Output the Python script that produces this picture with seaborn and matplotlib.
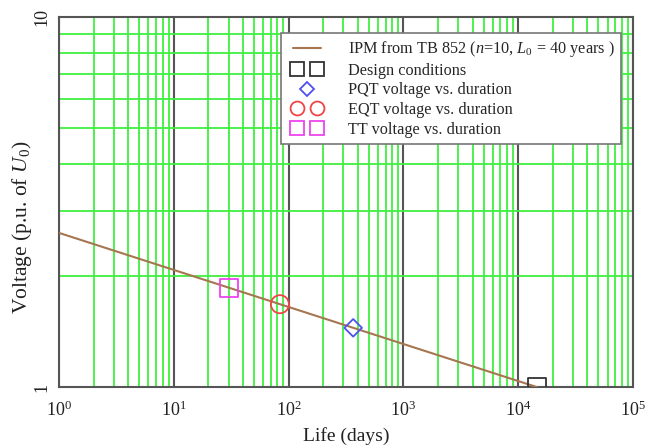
import matplotlib
matplotlib.use("Agg")
import matplotlib.pyplot as plt
import seaborn as sns
import pandas as pd
from matplotlib.lines import Line2D
from matplotlib.legend_handler import HandlerLine2D
from matplotlib.ticker import LogLocator, LogFormatterMathtext, NullFormatter

# Data
ipm_life = [1, 14610]          # days
ipm_voltage = [2.61, 1.0]      # p.u. of U0
design_life = [14610]
design_voltage = [1.0]
pqt_life = [365]
pqt_voltage = [1.446]
eqt_life = [84]
eqt_voltage = [1.675]
tt_life = [30]
tt_voltage = [1.855]

sns.set_theme(style="white")
plt.rcParams["font.family"] = ["Liberation Serif", "DejaVu Serif"]
plt.rcParams["mathtext.fontset"] = "custom"
plt.rcParams["mathtext.rm"] = "Liberation Serif"
plt.rcParams["mathtext.it"] = "Liberation Serif:italic"

green = "#3ff03f"
brown = "#a5764f"
edge = "#555555"

fig = plt.figure(figsize=(6.47, 4.45), dpi=100)
ax = fig.add_axes([0.0912, 0.130, 0.8872, 0.832])

ipm = pd.DataFrame({"life": ipm_life, "voltage": ipm_voltage})
sns.lineplot(data=ipm, x="life", y="voltage", ax=ax, color=brown, linewidth=1.5, zorder=3)

def points(life, volt, marker, color, size):
    d = pd.DataFrame({"life": life, "voltage": volt})
    sns.scatterplot(data=d, x="life", y="voltage", ax=ax, marker=marker, s=size,
                    facecolor="none", edgecolor=color, linewidth=1.3, zorder=4)

points(design_life, design_voltage, "s", "#333333", 170)
points(pqt_life, pqt_voltage, "D", "#5050f0", 80)
points(eqt_life, eqt_voltage, "o", "#f04545", 170)
points(tt_life, tt_voltage, "s", "#ee44ee", 170)

ax.set_xscale("log")
ax.set_yscale("log")
ax.set_xlim(1, 1e5)
ax.set_ylim(1, 10)

ax.xaxis.set_major_locator(LogLocator(base=10, numticks=10))
ax.xaxis.set_major_formatter(LogFormatterMathtext())
ax.xaxis.set_minor_locator(LogLocator(base=10, subs=range(2, 10), numticks=10))
ax.xaxis.set_minor_formatter(NullFormatter())
ax.set_yticks([1, 10], ["1", "10"])
ax.yaxis.set_minor_locator(LogLocator(base=10, subs=range(2, 10), numticks=10))
ax.yaxis.set_minor_formatter(NullFormatter())

ax.grid(which="minor", axis="both", color=green, linewidth=1.3)
ax.grid(which="major", axis="x", color=edge, linewidth=1.5)
ax.grid(which="major", axis="y", color=green, linewidth=1.3)
ax.set_axisbelow(True)

ax.tick_params(which="both", length=0, labelsize=13, colors="#222222")
ax.tick_params(axis="x", pad=10)
ax.tick_params(axis="y", pad=6)
for lab in ax.get_yticklabels():
    lab.set_rotation(90)
    lab.set_va("center")

for s in ax.spines.values():
    s.set_color(edge)
    s.set_linewidth(1.5)

ax.set_xlabel("Life (days)", fontsize=14, color="#222222", labelpad=5)
ax.set_ylabel(r"Voltage (p.u. of $U_0$)", fontsize=15.5, color="#222222")
ax.yaxis.set_label_coords(-0.043, 0.432)

handles = [
    Line2D([], [], color=brown, linewidth=1.5),
    Line2D([], [], linestyle="none", marker="s", markersize=10, markerfacecolor="none",
           markeredgecolor="#333333", markeredgewidth=1.3),
    Line2D([], [], linestyle="none", marker="D", markersize=7, markerfacecolor="none",
           markeredgecolor="#5050f0", markeredgewidth=1.3),
    Line2D([], [], linestyle="none", marker="o", markersize=10, markerfacecolor="none",
           markeredgecolor="#f04545", markeredgewidth=1.3),
    Line2D([], [], linestyle="none", marker="s", markersize=10, markerfacecolor="none",
           markeredgecolor="#ee44ee", markeredgewidth=1.3),
]
labels = [
    r"IPM from TB 852 ($n$=10, $L_0$ = 40 years )",
    "Design conditions",
    "PQT voltage vs. duration",
    "EQT voltage vs. duration",
    "TT voltage vs. duration",
]
pair = HandlerLine2D(numpoints=2, marker_pad=0.55)
hmap = {handles[1]: pair, handles[2]: HandlerLine2D(numpoints=1),
        handles[3]: pair, handles[4]: pair}
leg = ax.legend(handles, labels, loc="upper right", bbox_to_anchor=(0.979, 0.957),
                borderaxespad=0, numpoints=2, fontsize=11.7, frameon=True, fancybox=False,
                framealpha=1, edgecolor="#777777", handlelength=2.34, handletextpad=1.35,
                labelspacing=0.22, borderpad=0.4, handler_map=hmap)
leg.get_frame().set_linewidth(1.2)
leg.set_zorder(10)

fig.savefig("out.png", dpi=100)
